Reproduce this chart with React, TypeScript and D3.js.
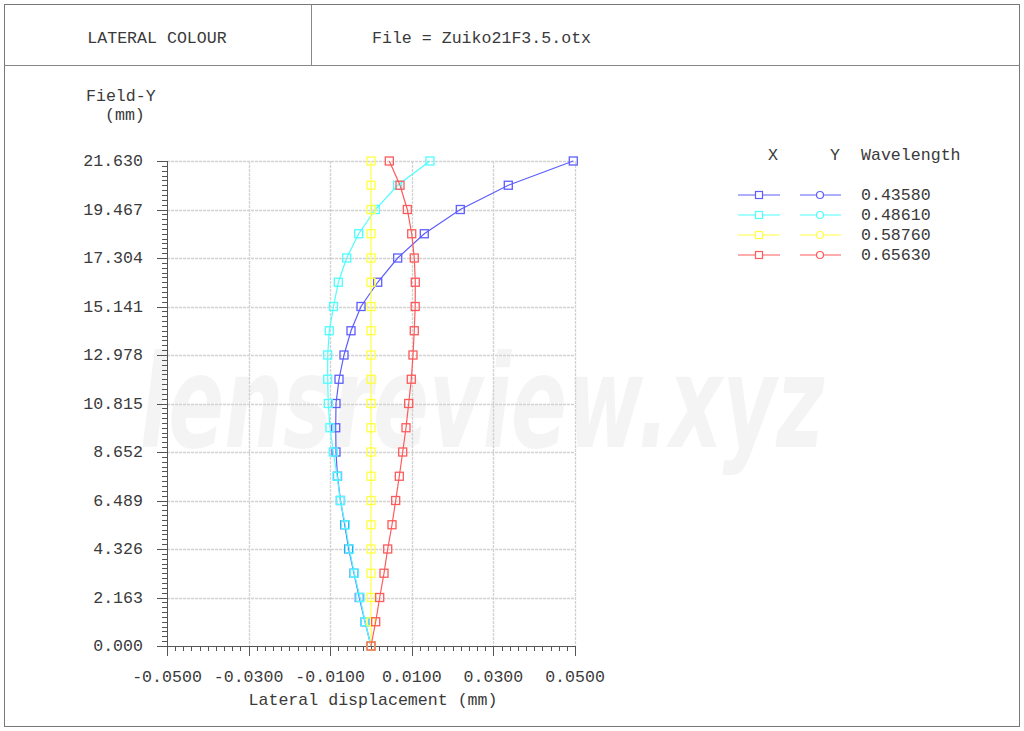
import React from "react";
import * as d3 from "d3";

const fieldY = [0, 1.0815, 2.163, 3.2445, 4.326, 5.4075, 6.489, 7.5705, 8.652, 9.7335, 10.815, 11.8965, 12.978, 14.0595, 15.141, 16.2225, 17.304, 18.3855, 19.467, 20.5485, 21.63];

const blue435 = [0, -0.00147, -0.00287, -0.00417, -0.00547, -0.00645, -0.00748, -0.00821, -0.00858, -0.00865, -0.00858, -0.00784, -0.00662, -0.0049, -0.00245, 0.00164, 0.00654, 0.01306, 0.02189, 0.03365, 0.04958];
const cyan486 = [0, -0.00145, -0.0027, -0.0041, -0.0053, -0.0063, -0.00752, -0.0083, -0.00924, -0.01005, -0.01047, -0.01061, -0.01061, -0.01022, -0.00919, -0.00801, -0.00596, -0.00301, 0.00105, 0.00654, 0.01446];
const yellow588 = [0, 0, 0, 0, 0, 0, 0, 0, 0, 0, 0, 0, 0, 0, 0, 0, 0, 0, 0, 0, 0];
const red656 = [0, 0.00115, 0.00213, 0.00319, 0.00409, 0.00515, 0.00605, 0.00694, 0.00777, 0.00858, 0.00924, 0.00988, 0.01029, 0.01061, 0.01083, 0.01086, 0.01061, 0.00998, 0.0089, 0.00711, 0.00449];

const wavelengths = ["0.43580", "0.48610", "0.58760", "0.65630"];
const colors = ["#5e5eff", "#4dffff", "#ffff40", "#ff5a5a"];
const seriesList = [blue435, cyan486, yellow588, red656];

const xTickValues = [-0.05, -0.03, -0.01, 0.01, 0.03, 0.05];
const xTickLabels = ["-0.0500", "-0.0300", "-0.0100", "0.0100", "0.0300", "0.0500"];
const yTickValues = [0, 2.163, 4.326, 6.489, 8.652, 10.815, 12.978, 15.141, 17.304, 19.467, 21.63];
const yTickLabels = ["0.000", "2.163", "4.326", "6.489", "8.652", "10.815", "12.978", "15.141", "17.304", "19.467", "21.630"];

const FONT = "'Liberation Mono', 'DejaVu Sans Mono', monospace";
const TXT = "#3a3a3a";

export default function App() {
  const x = d3.scaleLinear().domain([-0.05, 0.05]).range([167, 575]);
  const y = d3.scaleLinear().domain([0, 21.63]).range([646, 161]);
  const line = d3.line<[number, number]>().x((d) => x(d[0])).y((d) => y(d[1]));

  const xMinor = d3.range(0, 51).map((i) => -0.05 + i * 0.002);
  const yMinor = d3.range(0, 101).map((i) => i * 0.2163);

  const axisColor = "#555";
  const gridColor = "#d2d2d2";

  return (
    <svg width={1024} height={731} style={{ position: "absolute", left: 0, top: 0, background: "#fff" }}>
      <rect x={0} y={0} width={1024} height={731} fill="#fff" />
      {/* watermark */}
      <g transform="translate(140,447) scale(0.645,1)">
        <text x={0} y={0} fontFamily="'DejaVu Sans', sans-serif" fontStyle="italic" fontWeight="bold" fontSize={128} fill="#000" fillOpacity={0.045}>lensreview.xyz</text>
      </g>

      {/* frame */}
      <rect x={4.5} y={4.5} width={1015} height={722} fill="none" stroke="#777" strokeWidth={1} />
      <line x1={4.5} x2={1019.5} y1={65.5} y2={65.5} stroke="#888" />
      <line x1={311.5} x2={311.5} y1={4.5} y2={65.5} stroke="#888" />
      <text x={157} y={43} textAnchor="middle" fontFamily={FONT} fontSize={16.6} fill={TXT}>LATERAL COLOUR</text>
      <text x={372} y={43} fontFamily={FONT} fontSize={16.6} fill={TXT}>File = Zuiko21F3.5.otx</text>
      <text x={86} y={101} fontFamily={FONT} fontSize={16.6} fill={TXT}>Field-Y</text>
      <text x={105} y={120} fontFamily={FONT} fontSize={16.6} fill={TXT}>(mm)</text>

      {/* grid */}
      {yTickValues.slice(1).map((v) => (
        <line key={"gy" + v} x1={x(-0.05)} x2={x(0.05)} y1={Math.round(y(v)) + 0.5} y2={Math.round(y(v)) + 0.5} stroke={gridColor} strokeWidth={1.3} strokeDasharray="3,1" />
      ))}
      {xTickValues.slice(1).map((v) => (
        <line key={"gx" + v} x1={Math.round(x(v)) + 0.5} x2={Math.round(x(v)) + 0.5} y1={y(21.63)} y2={y(0)} stroke={gridColor} strokeWidth={1.3} strokeDasharray="3,1" />
      ))}

      {/* axes */}
      <line x1={167.5} x2={167.5} y1={y(21.63)} y2={656} stroke={axisColor} />
      <line x1={157} x2={x(0.05)} y1={646.5} y2={646.5} stroke={axisColor} />
      {xMinor.map((v, i) => (
        <line key={"xm" + i} x1={Math.round(x(v)) + 0.5} x2={Math.round(x(v)) + 0.5} y1={646} y2={i % 10 === 0 ? 656 : 651} stroke={axisColor} />
      ))}
      {yMinor.map((v, i) => (
        <line key={"ym" + i} x1={i % 10 === 0 ? 157 : 162} x2={167} y1={Math.round(y(v)) + 0.5} y2={Math.round(y(v)) + 0.5} stroke={axisColor} />
      ))}
      {xTickValues.map((v, i) => (
        <text key={"xl" + v} x={x(v)} y={682} textAnchor="middle" fontFamily={FONT} fontSize={16.6} fill={TXT}>{xTickLabels[i]}</text>
      ))}
      {yTickValues.map((v, i) => (
        <text key={"yl" + v} x={143} y={y(v) + 5} textAnchor="end" fontFamily={FONT} fontSize={16.6} fill={TXT}>{yTickLabels[i]}</text>
      ))}
      <text x={373} y={705} textAnchor="middle" fontFamily={FONT} fontSize={16.6} fill={TXT}>Lateral displacement (mm)</text>

      {/* series */}
      {seriesList.map((s, k) => {
        const pts: [number, number][] = s.map((v, i) => [v, fieldY[i]]);
        return (
          <g key={"s" + k}>
            <path d={line(pts) || ""} fill="none" stroke={colors[k]} strokeWidth={1.2} />
            {pts.map((p, i) => (
              <rect key={i} x={x(p[0]) - 4} y={y(p[1]) - 4} width={8} height={8} fill="none" stroke={colors[k]} strokeWidth={1.3} />
            ))}
          </g>
        );
      })}

      {/* legend */}
      <text x={773} y={160} textAnchor="middle" fontFamily={FONT} fontSize={16.6} fill={TXT}>X</text>
      <text x={835} y={160} textAnchor="middle" fontFamily={FONT} fontSize={16.6} fill={TXT}>Y</text>
      <text x={861} y={160} fontFamily={FONT} fontSize={16.6} fill={TXT}>Wavelength</text>
      {wavelengths.map((w, k) => {
        const ly = 195 + k * 20;
        return (
          <g key={"lg" + w}>
            <line x1={738} x2={780} y1={ly} y2={ly} stroke={colors[k]} strokeWidth={1.2} />
            <rect x={755.5} y={ly - 3.5} width={7} height={7} fill="#fff" stroke={colors[k]} strokeWidth={1.2} />
            <line x1={800} x2={841} y1={ly} y2={ly} stroke={colors[k]} strokeWidth={1.2} />
            <circle cx={820} cy={ly} r={3.5} fill="#fff" stroke={colors[k]} strokeWidth={1.2} />
            <text x={861} y={ly + 5} fontFamily={FONT} fontSize={16.6} fill={TXT}>{w}</text>
          </g>
        );
      })}
    </svg>
  );
}
